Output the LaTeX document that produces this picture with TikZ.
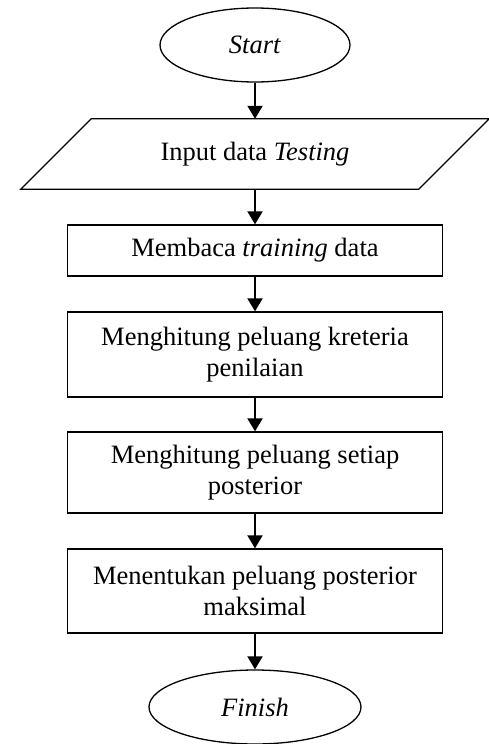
\documentclass[tikz,border=0pt]{standalone}
\usepackage{fontspec}
\setmainfont{Liberation Serif}
\usetikzlibrary{shapes.geometric,arrows.meta}

\begin{document}
\begin{tikzpicture}[x=1pt,y=-1pt,
    every node/.style={font=\fontsize{26.5}{30.5}\selectfont, inner sep=0pt, align=center},
    term/.style={draw, line width=1.3pt, ellipse, minimum height=74pt},
    proc/.style={draw, line width=1.3pt, minimum width=375pt},
    arr/.style={line width=2pt, -{Triangle[length=13pt,width=15pt]}}]
    \useasboundingbox (0,0) rectangle (489,744);
    %\draw[very thin,color=gray] (0,0) grid[step=50] (489,744);
    \node[term, minimum width=190pt] (start) at (255,45) {\textit{Start}};
    \node[minimum width=468pt, minimum height=70pt] (input) at (255,154) {Input data \textit{Testing}};
    \draw[line width=1.3pt] (input.south west) -- ++(398,0) -- (input.north east) -- ++(-398,0) -- cycle;
    \node[proc, minimum height=51pt] (baca) at (255,250.5) {Membaca \textit{training} data};
    \node[proc, minimum height=85pt] (kriteria) at (255,354.5) {Menghitung peluang kreteria\\ penilaian};
    \node[proc, minimum height=81pt] (setiap) at (255,472.5) {Menghitung peluang setiap\\ posterior};
    \node[proc, minimum height=84pt] (maks) at (255,591) {Menentukan peluang posterior\\ maksimal};
    \node[term, minimum width=212pt] (finish) at (255,707) {\textit{Finish}};
    \draw[arr] (start) -- (input);
    \draw[arr] (input) -- (baca);
    \draw[arr] (baca) -- (kriteria);
    \draw[arr] (kriteria) -- (setiap);
    \draw[arr] (setiap) -- (maks);
    \draw[arr] (maks) -- (finish);
\end{tikzpicture}
\end{document}
